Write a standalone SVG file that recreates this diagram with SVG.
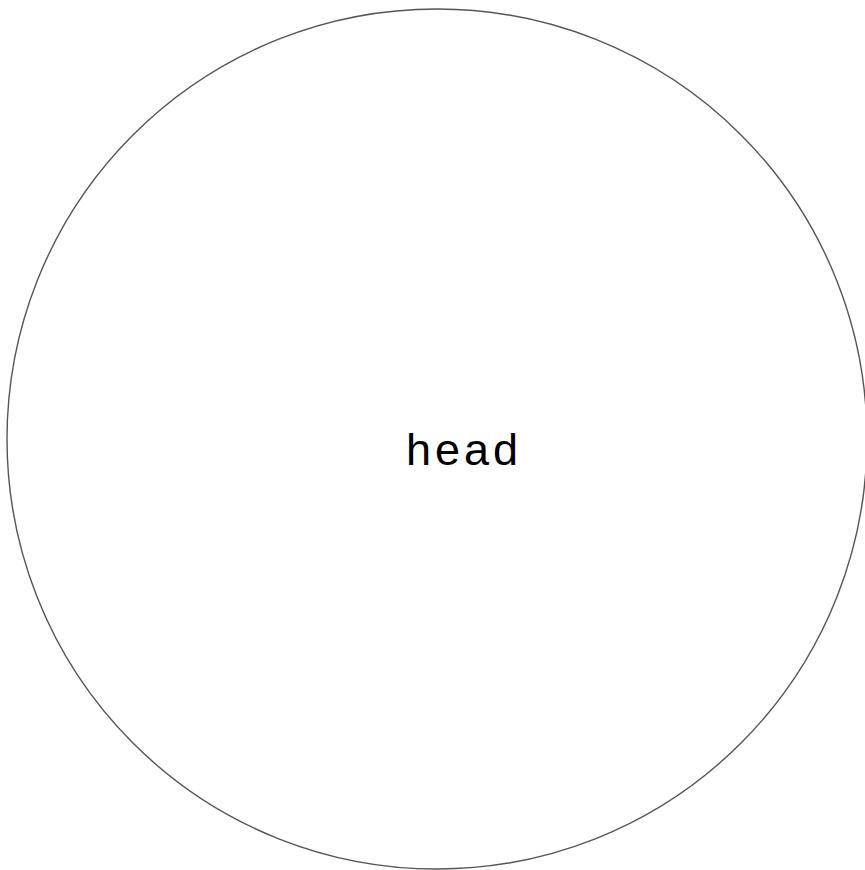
<svg xmlns="http://www.w3.org/2000/svg" width="865" height="870" viewBox="0 0 865 870">
<style>
.node-shape{fill:#ffffff;stroke:#555555;stroke-width:1.4}
.label{font-family:"Liberation Sans","DejaVu Sans",sans-serif;font-size:45px;fill:#000000;letter-spacing:4px}
</style>
<rect width="865" height="870" fill="#ffffff"/>
<g id="connectors"></g>
<g id="head">
<circle class="node-shape" cx="437" cy="439" r="430"/>
<text class="label" x="406" y="465">head</text>
</g>
</svg>
